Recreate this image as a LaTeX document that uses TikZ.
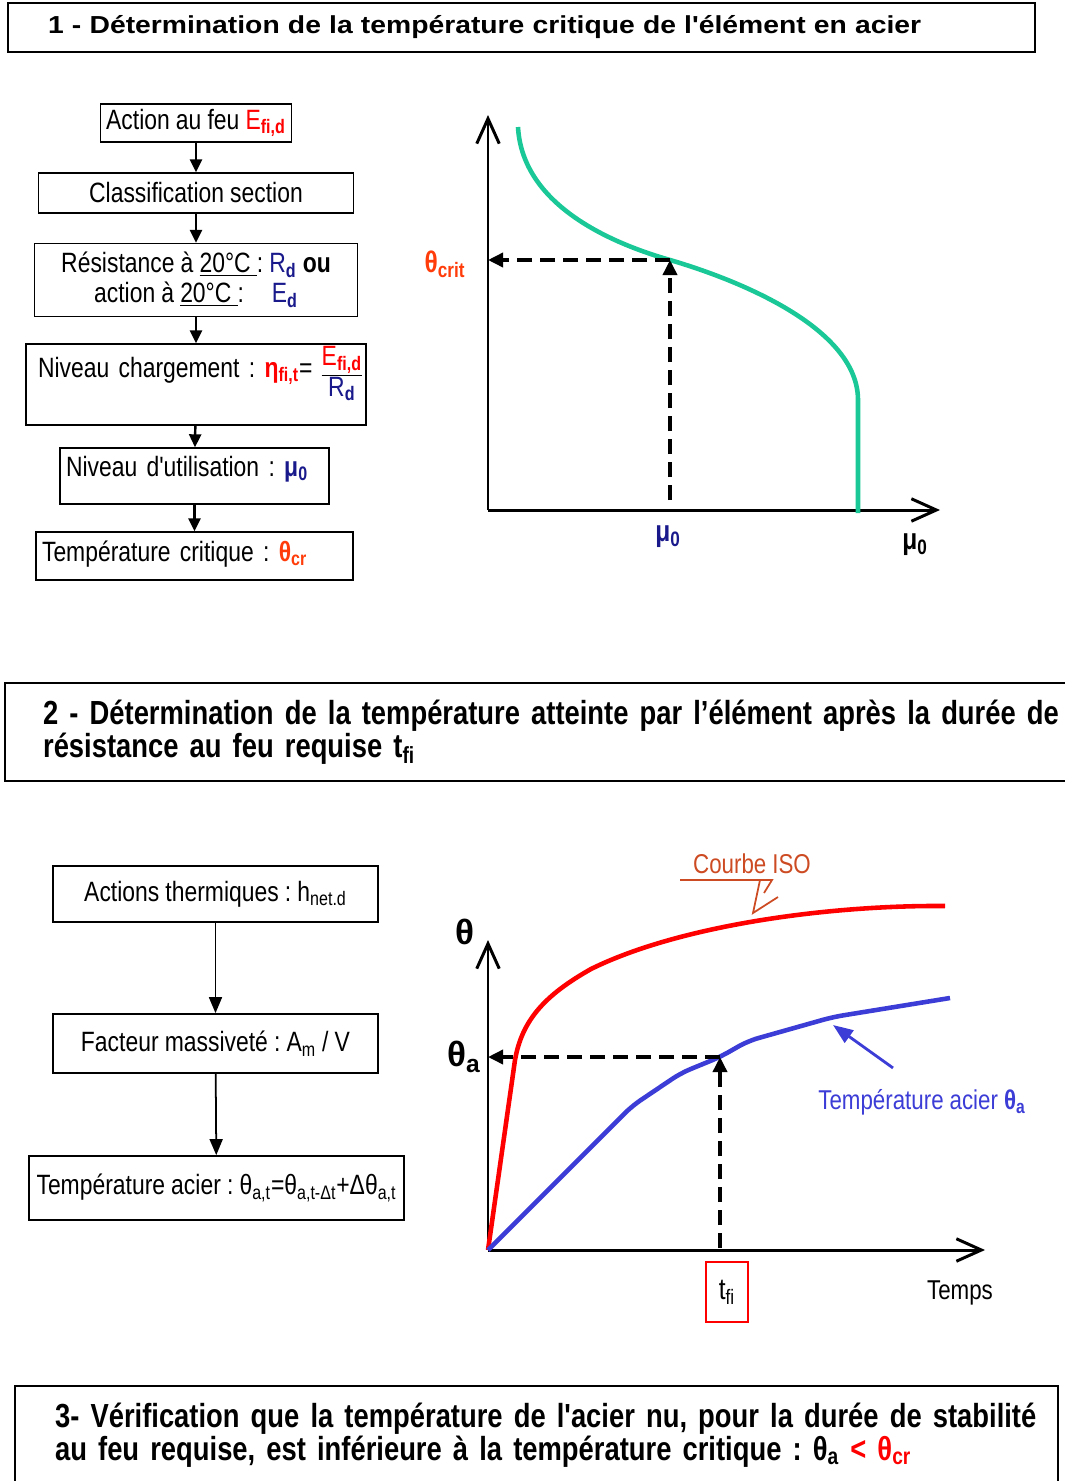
\documentclass[tikz,border=0pt]{standalone}
\usepackage{fontspec}
\setmainfont{Liberation Sans}
\newfontfamily\nw[FakeStretch=0.82]{Liberation Sans}
\newfontfamily\hw[FakeStretch=1.15]{Liberation Sans}
\usetikzlibrary{arrows.meta,positioning,calc}
\definecolor{navy}{RGB}{25,25,140}
\definecolor{crit}{RGB}{255,60,10}
\definecolor{verte}{RGB}{25,200,150}
\definecolor{iso}{RGB}{205,75,35}
\definecolor{bleu}{RGB}{60,60,215}
\newcommand{\sbs}[1]{\textsubscript{#1}}
\newcommand{\esp}{\fontdimen2\font=0.22em\fontdimen3\font=0.08em\fontdimen4\font=0.05em\relax}
\frenchspacing

\begin{document}
\begin{tikzpicture}[x=0.02cm, y=-0.02cm,
  box/.style={draw, line width=0.8pt, inner sep=0.1cm, font=\nw\fontsize{15.9}{17}\selectfont\esp, align=center},
  lbox/.style={box, align=left, inner xsep=0.12cm},
  titre/.style={draw, line width=1pt, inner xsep=0.3cm, align=left},
  arr/.style={-{Triangle[length=0.26cm,width=0.24cm]}, line width=1.4pt},
  arrb/.style={-{Triangle[length=0.32cm,width=0.26cm]}, line width=1pt},
  axe/.style={-{Straight Barb[length=0.5cm,width=0.45cm]}, line width=1.7pt},
  pointille/.style={dash pattern=on 0.3cm off 0.16cm, line width=2pt, -{Triangle[length=0.3cm,width=0.28cm]}},
  lab/.style={font=\nw\fontsize{15.5}{17}\selectfont\esp}
]
\useasboundingbox (0,0) rectangle (1065,1481);

% 1 - temperature critique
\node[titre, minimum height=0.98cm, text width=19.94cm, font=\hw\bfseries\fontsize{14}{16}\selectfont] (t1) at (521.5,27.5)
  {\hspace*{0.5cm}1 - Détermination de la température critique de l'élément en acier};

\node[box, minimum width=3.82cm, minimum height=0.72cm] (feu) at (196,123)
  {Action au feu {\color{red}E\sbs{\bfseries fi,d}}};
\node[box, minimum width=6.3cm, minimum height=0.8cm] (classe) at (196,193) {Classification section};
\node[box, minimum width=6.46cm, minimum height=1.46cm] (resist) at (196,280)
  {Résistance à \underline{20°C\ }: {\color{navy}R\sbs{\bfseries d}} \textbf{ou}\\
   action à \underline{20°C\ }:\quad {\color{navy}E\sbs{\bfseries d}}};
\node[lbox, text width=6.56cm, text height=0.56cm, text depth=0.86cm] (charge) at (196,384.5)
  {\mbox{\hspace*{0.12cm}Niveau chargement : {\color{red}\bfseries η\sbs{fi,t}}= \raisebox{-11pt}{\begin{tabular}[b]{@{}c@{}}{\color{red}E\sbs{\bfseries fi,d}}\\\hline {\color{navy}R\sbs{\bfseries d}}\end{tabular}}}};
\node[lbox, text width=5.14cm, text height=0.46cm, text depth=0.46cm] (util) at (194.5,476)
  {Niveau d'utilisation : {\color{navy}\bfseries μ\sbs{0}}};
\node[lbox, text width=6.1cm, text height=0.48cm, text depth=0.28cm] (critique) at (194.5,556)
  {Température critique : {\color{crit}\bfseries θ\sbs{cr}}};

\draw[arr] (feu) -- (classe);
\draw[arr] (classe) -- (resist);
\draw[arr] (resist) -- (charge);
\draw[arr] (charge) -- (util);
\draw[arr] (util) -- (critique);

% courbe mu0 - theta
\coordinate (o1) at (488,510);
\coordinate (y1) at (488,115);
\coordinate (x1) at (940,510);
\coordinate (c1) at (670,260);
\coordinate (m1) at (670,500);
\draw[axe] (o1) -- (y1);
\draw[axe] (o1) -- (x1);
\draw[verte, line width=2.6pt] (518,127) .. controls (522,200) and (600,240) .. (c1)
  .. controls (745,282) and (858,330) .. (858,400) -- (858,513);
\draw[pointille] (c1) -- (c1 -| o1);
\draw[pointille] (m1) -- (c1);
\node[font=\nw\bfseries\fontsize{17}{19}\selectfont, text=crit] (thcrit) at (445,264) {θ\sbs{crit}};
\node[font=\nw\bfseries\fontsize{17}{19}\selectfont, text=navy] (mu) at (668,537) {μ\sbs{0}};
\node[font=\nw\bfseries\fontsize{17}{19}\selectfont] (muaxe) at (915,545) {μ\sbs{0}};

% 2 - temperature atteinte
\node[titre, minimum height=1.96cm, text width=21.7cm, font=\nw\bfseries\fontsize{19}{18.7}\selectfont\esp] (t2) at (562.5,732)
  {\hspace*{0.46cm}2 - Détermination de la température atteinte par l’élément après la durée de\\
   \hspace*{0.46cm}résistance au feu requise t\sbs{fi}};

\node[box, line width=1pt, minimum width=6.5cm, minimum height=1.12cm] (therm) at (215.5,894)
  {Actions thermiques : h\sbs{net.d}};
\node[box, line width=1pt, minimum width=6.5cm, minimum height=1.18cm] (massiv) at (215.5,1043.5)
  {Facteur massiveté : A\sbs{m} / V};
\node[box, line width=1pt, minimum width=7.5cm, minimum height=1.28cm] (acier) at (216.5,1188)
  {Température acier : θ\sbs{a,t}=θ\sbs{a,t-Δt}+Δθ\sbs{a,t}};
\draw[arrb] (therm) -- (massiv);
\draw[arrb] (massiv) -- (acier);

% courbes ISO et acier
\coordinate (o2) at (488,1250);
\coordinate (y2) at (488,940);
\coordinate (x2) at (985,1250);
\coordinate (c2) at (720,1057);
\coordinate (m2) at (720,1248);
\draw[axe] (o2) -- (y2);
\draw[axe] (o2) -- (x2);
\draw[red, line width=2.6pt] (o2) -- (515,1060) .. controls (522,1020) and (545,995) .. (591,969)
  .. controls (680,925) and (830,905) .. (945,906);
\draw[bleu, line width=2.6pt, rounded corners=6pt] (o2) -- (632,1106) -- (681,1073) -- (c2) -- (748,1041) -- (833,1017) -- (950,998);
\draw[pointille] (c2) -- (c2 -| o2);
\draw[pointille] (m2) -- (c2);
\node[font=\bfseries\fontsize{20}{22}\selectfont] (theta) at (465,932) {θ};
\node[font=\bfseries\fontsize{20}{22}\selectfont] (thetaa) at (464,1057) {θ\sbs{a}};
\node[font=\nw\fontsize{17}{19}\selectfont, draw=red, line width=0.8pt, minimum width=0.84cm, minimum height=1.2cm] (tfi) at (727,1292) {t\sbs{fi}};
\node[lab] (temps) at (960,1293) {Temps};
\node[lab, text=iso] (iso) at (752,864) {Courbe ISO};
\draw[iso, line width=1pt] (680,880) -- (772,880) -- (764,893);
\draw[iso, line width=1pt] (760,880) -- (753,913) -- (778,897);
\node[lab, text=bleu] (tacier) at (922,1102) {Température acier {\bfseries θ\sbs{a}}};
\coordinate (p2) at (833,1025);
\draw[bleu, line width=1.6pt, -{Triangle[length=0.4cm,width=0.3cm]}] ([shift={(-0.58cm,0.3cm)}]tacier.north) -- (p2);

% 3 - verification
\node[titre, minimum height=1.96cm, text width=20.26cm, font=\nw\bfseries\fontsize{19}{18.7}\selectfont\esp] (t3) at (536.5,1435)
  {\hspace*{0.5cm}3- Vérification que la température de l'acier nu, pour la durée de stabilité\\
   \hspace*{0.5cm}au feu requise, est inférieure à la température critique : θ\sbs{a} {\color{red}< θ\sbs{cr}}};
\end{tikzpicture}
\end{document}
